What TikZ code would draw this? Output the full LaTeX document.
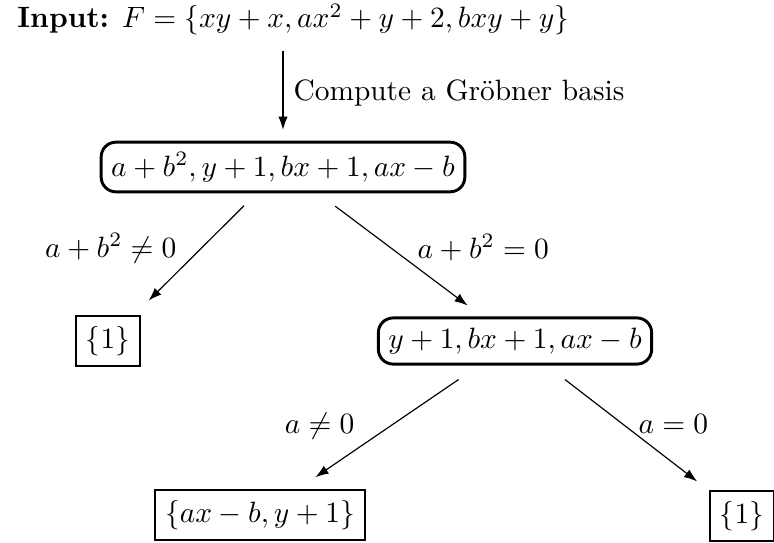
\documentclass[tikz,border=0pt]{standalone}
\usepackage{amsmath,amssymb}
\usepackage{tikz}
\usetikzlibrary{arrows.meta,positioning}
\tikzset{
  gbox/.style={rectangle, rounded corners=5pt, draw, line width=1pt, inner sep=3.4pt},
  rbox/.style={rectangle, draw, line width=0.8pt, inner sep=3.4pt},
  garrow/.style={-{Latex[length=4.5pt,width=3.2pt]}, line width=0.4pt},
  clabel/.style={inner sep=0pt}
}

\begin{document}
\begin{tikzpicture}[x=0.34pt, y=-0.34pt]
\useasboundingbox (0,0) rectangle (774,542);
\node[anchor=base west] (input) at (7,28) {\textbf{Input:} $F=\{xy+x, ax^2+y+2, bxy+y\}$};
\node[gbox] (gb) at (283,167) {$a+b^2, y+1, bx+1, ax-b$};
\node[rbox] (one) at (108,341) {$\{1\}$};
\node[gbox] (gbtwo) at (515,341) {$y+1, bx+1, ax-b$};
\node[rbox] (res) at (260,515) {$\{ax-b, y+1\}$};
\node[rbox] (onetwo) at (742,516) {$\{1\}$};
\node[clabel, anchor=base east] (neqone) at (177,257) {$a+b^2\neq 0$};
\node[clabel, anchor=base west] (eqone) at (417,258) {$a+b^2=0$};
\node[clabel, anchor=base east] (neqtwo) at (355,433) {$a\neq 0$};
\node[clabel, anchor=base west] (eqtwo) at (638,433) {$a=0$};
\draw[garrow, shorten <=1.7pt, shorten >=3.7pt] (input.south -| gb) -- node[right, inner sep=3.4pt] (step) {Compute a Gr\"obner basis} (gb);
\draw[garrow, shorten <=6pt, shorten >=7pt] (gb) -- (one);
\draw[garrow, shorten <=7.3pt, shorten >=6.2pt] (gb) -- (gbtwo);
\draw[garrow, shorten <=8.4pt, shorten >=7.2pt] (gbtwo) -- (res);
\draw[garrow, shorten <=7.8pt, shorten >=5pt] (gbtwo) -- (onetwo);
\end{tikzpicture}
\end{document}
